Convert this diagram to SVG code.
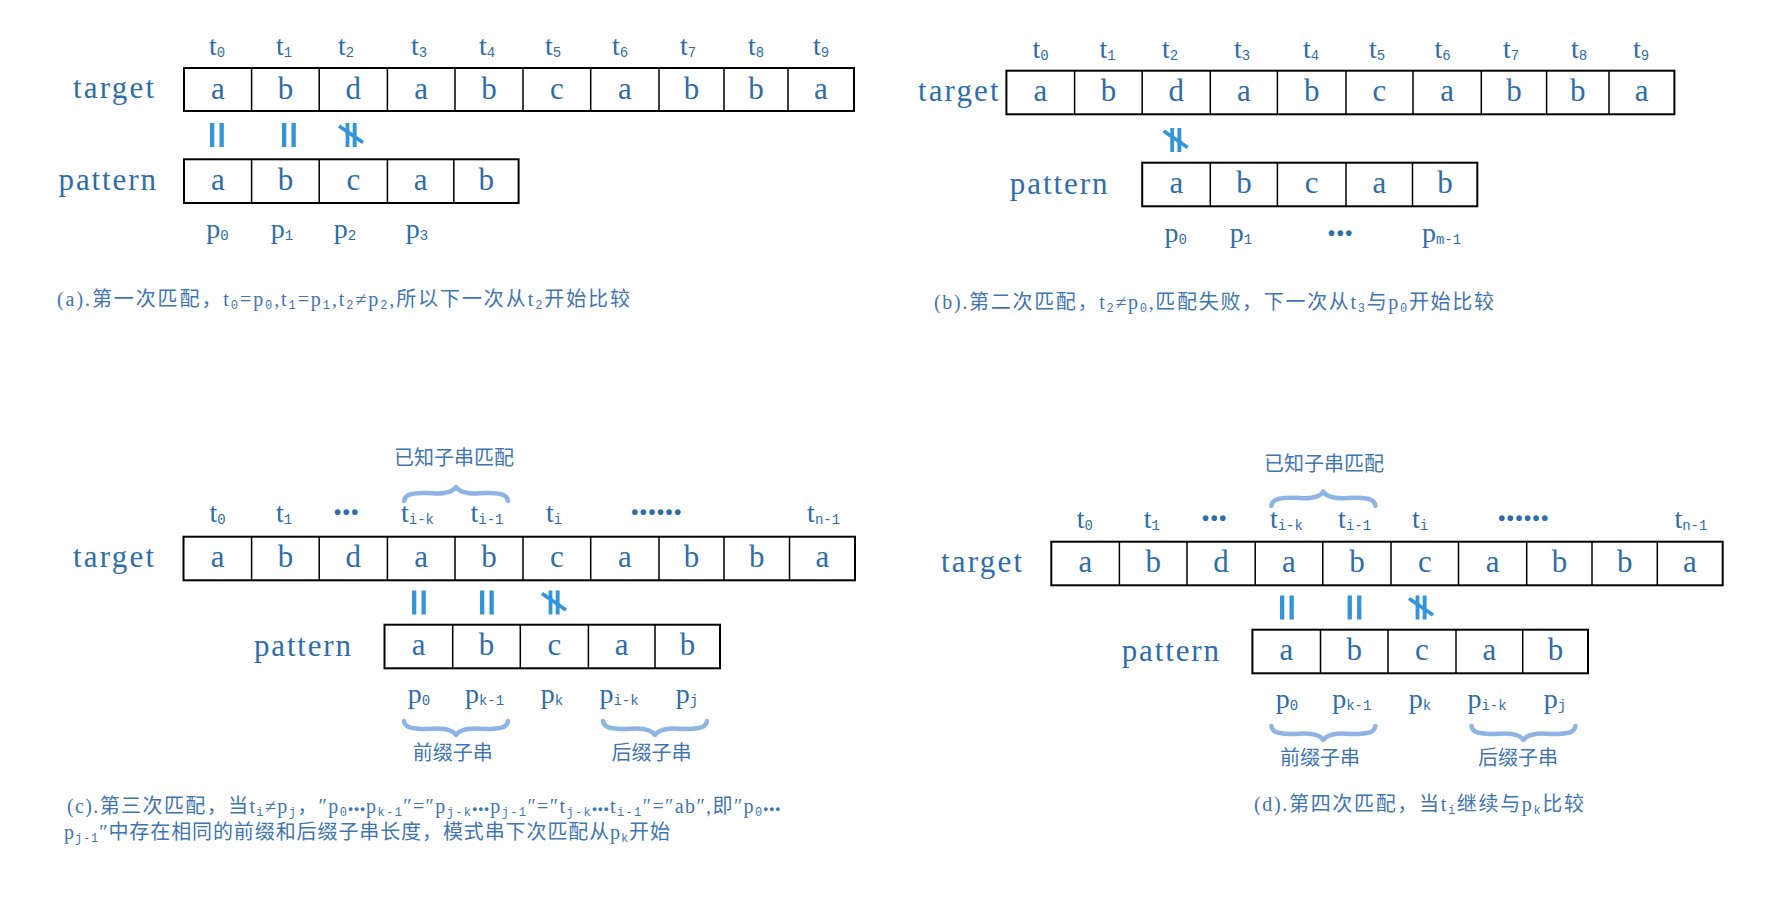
<svg xmlns="http://www.w3.org/2000/svg" xmlns:xlink="http://www.w3.org/1999/xlink" width="1772" height="909" viewBox="0 0 1772 909">
<style>
.box{fill:none;stroke:#000;stroke-width:2}
.div{stroke:#000;stroke-width:1.5}
.ch{font-family:'Liberation Serif','Noto Sans CJK SC',serif;font-size:31px;fill:#2F6DA8;text-anchor:middle}
.lb{font-family:'Liberation Serif','Noto Sans CJK SC',serif;font-size:31px;fill:#2F6DA8}
.tl{font-family:'Liberation Serif','Noto Sans CJK SC',serif;font-size:28px;fill:#2F6DA8;text-anchor:middle}
.sb{font-family:'Liberation Mono',monospace;font-size:14px}
.dots{font-family:'Liberation Sans',sans-serif;font-size:20px;fill:#2F6DA8;text-anchor:middle;letter-spacing:1.6px;font-weight:bold}
.cj{font-family:'Noto Sans CJK SC',sans-serif;font-size:20px;fill:#3F75B0;text-anchor:middle}
.cap{font-family:'Liberation Serif','Noto Sans CJK SC',sans-serif;font-size:20px;fill:#3F75B0}
.cs{font-family:'Liberation Mono',monospace;font-size:12px}
.cd{font-family:'Liberation Sans',sans-serif;font-size:13px;font-weight:bold}
.eq{fill:#3394DA}
.neq{stroke:#3394DA;stroke-width:3.6}
.brace{fill:none;stroke:#8DB4E2;stroke-width:4.5;stroke-linecap:round;stroke-linejoin:round}
</style>
<defs>
<g id="eq" class="eq"><rect x="-7" y="-12" width="4.3" height="24"/><rect x="2.5" y="-12" width="4.3" height="24"/></g>
<g id="neq"><rect class="eq" x="-5.4" y="-12" width="3.8" height="24"/><rect class="eq" x="1.7" y="-12" width="3.9" height="24"/><line class="neq" x1="-12" y1="-9" x2="12" y2="7.5"/></g>
<path id="brace" class="brace" d="M-52,14 C-51,7 -44,6.5 -34,6 C-24,5.5 -20,7.5 -12,6 C-5,5 -2,3 0,0 C2,3 5,5 12,6 C20,7.5 24,5.5 34,6 C44,6.5 51,7 52,14"/>
</defs>
<rect width="1772" height="909" fill="#fff"/>

<!-- ===== Panel (a) ===== -->
<g id="panel-a">
<g id="a-tlabels">
<text class="tl" x="217" y="55">t<tspan class="sb" dy="2">0</tspan></text>
<text class="tl" x="284" y="55">t<tspan class="sb" dy="2">1</tspan></text>
<text class="tl" x="346" y="55">t<tspan class="sb" dy="2">2</tspan></text>
<text class="tl" x="419" y="55">t<tspan class="sb" dy="2">3</tspan></text>
<text class="tl" x="487" y="55">t<tspan class="sb" dy="2">4</tspan></text>
<text class="tl" x="553" y="55">t<tspan class="sb" dy="2">5</tspan></text>
<text class="tl" x="620" y="55">t<tspan class="sb" dy="2">6</tspan></text>
<text class="tl" x="688" y="55">t<tspan class="sb" dy="2">7</tspan></text>
<text class="tl" x="756" y="55">t<tspan class="sb" dy="2">8</tspan></text>
<text class="tl" x="821" y="55">t<tspan class="sb" dy="2">9</tspan></text>
</g>
<g id="a-target">
<text class="lb" x="73" y="98" textLength="81" lengthAdjust="spacing">target</text>
<rect class="box" x="184" y="68" width="670" height="43"/>
<path class="div" d="M251.6,68V111M319.2,68V111M387.4,68V111M455,68V111M523,68V111M590.7,68V111M659,68V111M724,68V111M788,68V111"/>
<text class="ch" x="217.8" y="98.5">a</text><text class="ch" x="285.4" y="98.5">b</text><text class="ch" x="353.3" y="98.5">d</text><text class="ch" x="421.2" y="98.5">a</text><text class="ch" x="489" y="98.5">b</text><text class="ch" x="556.9" y="98.5">c</text><text class="ch" x="624.9" y="98.5">a</text><text class="ch" x="691.5" y="98.5">b</text><text class="ch" x="756" y="98.5">b</text><text class="ch" x="821" y="98.5">a</text>
</g>
<g id="a-pattern">
<text class="lb" x="58.5" y="190" textLength="97.5" lengthAdjust="spacing">pattern</text>
<rect class="box" x="184" y="159.3" width="334.6" height="43.7"/>
<path class="div" d="M251.6,159.3V203M319.2,159.3V203M387.4,159.3V203M453.8,159.3V203"/>
<text class="ch" x="217.8" y="189.5">a</text><text class="ch" x="285.4" y="189.5">b</text><text class="ch" x="353.3" y="189.5">c</text><text class="ch" x="420.6" y="189.5">a</text><text class="ch" x="486.2" y="189.5">b</text>
</g>
<g id="a-plabels">
<text class="tl" x="217.5" y="238">p<tspan class="sb" dy="2">0</tspan></text>
<text class="tl" x="282" y="238">p<tspan class="sb" dy="2">1</tspan></text>
<text class="tl" x="345" y="238">p<tspan class="sb" dy="2">2</tspan></text>
<text class="tl" x="417" y="238">p<tspan class="sb" dy="2">3</tspan></text>
</g>
<text id="a-caption" class="cap" x="57" y="306" textLength="573" lengthAdjust="spacing">(a).第一次匹配，t<tspan class="cs" dy="3">0</tspan><tspan dy="-3">=p</tspan><tspan class="cs" dy="3">0</tspan><tspan dy="-3">,t</tspan><tspan class="cs" dy="3">1</tspan><tspan dy="-3">=p</tspan><tspan class="cs" dy="3">1</tspan><tspan dy="-3">,t</tspan><tspan class="cs" dy="3">2</tspan><tspan dy="-3">≠p</tspan><tspan class="cs" dy="3">2</tspan><tspan dy="-3">,所以下一次从t</tspan><tspan class="cs" dy="3">2</tspan><tspan dy="-3">开始比较</tspan></text>
</g>

<!-- ===== Panel (b) ===== -->
<g id="panel-b">
<g id="b-tlabels">
<text class="tl" x="1040.5" y="57.5">t<tspan class="sb" dy="2">0</tspan></text>
<text class="tl" x="1107.5" y="57.5">t<tspan class="sb" dy="2">1</tspan></text>
<text class="tl" x="1170" y="57.5">t<tspan class="sb" dy="2">2</tspan></text>
<text class="tl" x="1242" y="57.5">t<tspan class="sb" dy="2">3</tspan></text>
<text class="tl" x="1311" y="57.5">t<tspan class="sb" dy="2">4</tspan></text>
<text class="tl" x="1377" y="57.5">t<tspan class="sb" dy="2">5</tspan></text>
<text class="tl" x="1442.6" y="57.5">t<tspan class="sb" dy="2">6</tspan></text>
<text class="tl" x="1511" y="57.5">t<tspan class="sb" dy="2">7</tspan></text>
<text class="tl" x="1579" y="57.5">t<tspan class="sb" dy="2">8</tspan></text>
<text class="tl" x="1641" y="57.5">t<tspan class="sb" dy="2">9</tspan></text>
</g>
<g id="b-target">
<text class="lb" x="918" y="101" textLength="80.5" lengthAdjust="spacing">target</text>
<rect class="box" x="1006.4" y="70.7" width="668" height="43.6"/>
<path class="div" d="M1074.6,70.7V114.3M1142.2,70.7V114.3M1210.3,70.7V114.3M1277.4,70.7V114.3M1346,70.7V114.3M1413,70.7V114.3M1481.3,70.7V114.3M1546.6,70.7V114.3M1609,70.7V114.3"/>
<text class="ch" x="1040.5" y="101">a</text><text class="ch" x="1108.4" y="101">b</text><text class="ch" x="1176.3" y="101">d</text><text class="ch" x="1243.9" y="101">a</text><text class="ch" x="1311.7" y="101">b</text><text class="ch" x="1379.5" y="101">c</text><text class="ch" x="1447.2" y="101">a</text><text class="ch" x="1514" y="101">b</text><text class="ch" x="1577.8" y="101">b</text><text class="ch" x="1641.7" y="101">a</text>
</g>
<g id="b-pattern">
<text class="lb" x="1009.8" y="193.5" textLength="97.7" lengthAdjust="spacing">pattern</text>
<rect class="box" x="1142.2" y="162.7" width="335.1" height="43.6"/>
<path class="div" d="M1210.3,162.7V206.3M1277.4,162.7V206.3M1346,162.7V206.3M1412.5,162.7V206.3"/>
<text class="ch" x="1176.3" y="193">a</text><text class="ch" x="1243.9" y="193">b</text><text class="ch" x="1311.7" y="193">c</text><text class="ch" x="1379.3" y="193">a</text><text class="ch" x="1444.9" y="193">b</text>
</g>
<g id="b-plabels">
<text class="tl" x="1175.7" y="242">p<tspan class="sb" dy="2">0</tspan></text>
<text class="tl" x="1241" y="242">p<tspan class="sb" dy="2">1</tspan></text>
<text class="dots" x="1341" y="239.5">•••</text>
<text class="tl" x="1441.5" y="242">p<tspan class="sb" dy="2">m-1</tspan></text>
</g>
<text id="b-caption" class="cap" x="934" y="309" textLength="560" lengthAdjust="spacing">(b).第二次匹配，t<tspan class="cs" dy="3">2</tspan><tspan dy="-3">≠p</tspan><tspan class="cs" dy="3">0</tspan><tspan dy="-3">,匹配失败，下一次从t</tspan><tspan class="cs" dy="3">3</tspan><tspan dy="-3">与p</tspan><tspan class="cs" dy="3">0</tspan><tspan dy="-3">开始比较</tspan></text>
</g>

<!-- ===== Panel (c) ===== -->
<g id="panel-c">
<text id="c-known" class="cj" x="454" y="465">已知子串匹配</text>
<g id="c-tlabels">
<text class="tl" x="217.5" y="522">t<tspan class="sb" dy="2">0</tspan></text>
<text class="tl" x="284" y="522">t<tspan class="sb" dy="2">1</tspan></text>
<text class="dots" x="347" y="519">•••</text>
<text class="tl" x="417.5" y="522">t<tspan class="sb" dy="2">i-k</tspan></text>
<text class="tl" x="487" y="522">t<tspan class="sb" dy="2">i-1</tspan></text>
<text class="tl" x="554" y="522">t<tspan class="sb" dy="2">i</tspan></text>
<text class="dots" x="657" y="519">••••••</text>
<text class="tl" x="823.6" y="522">t<tspan class="sb" dy="2">n-1</tspan></text>
</g>
<g id="c-target">
<text class="lb" x="73" y="567" textLength="81" lengthAdjust="spacing">target</text>
<rect class="box" x="183.5" y="536.7" width="671.5" height="43.6"/>
<path class="div" d="M251.6,536.7V580.3M319.2,536.7V580.3M387.4,536.7V580.3M455,536.7V580.3M523,536.7V580.3M590.7,536.7V580.3M659,536.7V580.3M724,536.7V580.3M789.5,536.7V580.3"/>
<text class="ch" x="217.6" y="567">a</text><text class="ch" x="285.4" y="567">b</text><text class="ch" x="353.3" y="567">d</text><text class="ch" x="421.2" y="567">a</text><text class="ch" x="489" y="567">b</text><text class="ch" x="556.9" y="567">c</text><text class="ch" x="624.9" y="567">a</text><text class="ch" x="691.5" y="567">b</text><text class="ch" x="756.8" y="567">b</text><text class="ch" x="822.3" y="567">a</text>
</g>
<g id="c-pattern">
<text class="lb" x="254" y="655.5" textLength="97" lengthAdjust="spacing">pattern</text>
<rect class="box" x="384.5" y="624.7" width="335.5" height="43.6"/>
<path class="div" d="M452.7,624.7V668.3M520.3,624.7V668.3M588.4,624.7V668.3M655,624.7V668.3"/>
<text class="ch" x="418.6" y="655">a</text><text class="ch" x="486.5" y="655">b</text><text class="ch" x="554.4" y="655">c</text><text class="ch" x="621.7" y="655">a</text><text class="ch" x="687.5" y="655">b</text>
</g>
<g id="c-plabels">
<text class="tl" x="419" y="703">p<tspan class="sb" dy="2">0</tspan></text>
<text class="tl" x="484.5" y="703">p<tspan class="sb" dy="2">k-1</tspan></text>
<text class="tl" x="552" y="703">p<tspan class="sb" dy="2">k</tspan></text>
<text class="tl" x="619" y="703">p<tspan class="sb" dy="2">i-k</tspan></text>
<text class="tl" x="687" y="703">p<tspan class="sb" dy="2">j</tspan></text>
</g>
<text id="c-prefix" class="cj" x="452.7" y="759.5">前缀子串</text>
<text id="c-suffix" class="cj" x="651.5" y="759.5">后缀子串</text>
<text id="c-caption1" class="cap" x="67" y="813" textLength="713" lengthAdjust="spacing">(c).第三次匹配，当t<tspan class="cs" dy="3">i</tspan><tspan dy="-3">≠p</tspan><tspan class="cs" dy="3">j</tspan><tspan dy="-3">，″p</tspan><tspan class="cs" dy="3">0</tspan><tspan class="cd" dy="-3">•••</tspan><tspan>p</tspan><tspan class="cs" dy="3">k-1</tspan><tspan dy="-3">″=″p</tspan><tspan class="cs" dy="3">j-k</tspan><tspan class="cd" dy="-3">•••</tspan><tspan>p</tspan><tspan class="cs" dy="3">j-1</tspan><tspan dy="-3">″=″t</tspan><tspan class="cs" dy="3">j-k</tspan><tspan class="cd" dy="-3">•••</tspan><tspan>t</tspan><tspan class="cs" dy="3">i-1</tspan><tspan dy="-3">″=″ab″,即″p</tspan><tspan class="cs" dy="3">0</tspan><tspan class="cd" dy="-3">•••</tspan></text>
<text id="c-caption2" class="cap" x="64" y="839" textLength="606" lengthAdjust="spacing">p<tspan class="cs" dy="3">j-1</tspan><tspan dy="-3">″中存在相同的前缀和后缀子串长度，模式串下次匹配从p</tspan><tspan class="cs" dy="3">k</tspan><tspan dy="-3">开始</tspan></text>
</g>

<!-- ===== Panel (d) ===== -->
<g id="panel-d">
<text id="d-known" class="cj" x="1324" y="471">已知子串匹配</text>
<g id="d-tlabels">
<text class="tl" x="1084.8" y="528">t<tspan class="sb" dy="2">0</tspan></text>
<text class="tl" x="1151.8" y="528">t<tspan class="sb" dy="2">1</tspan></text>
<text class="dots" x="1215" y="524.5">•••</text>
<text class="tl" x="1286.4" y="528">t<tspan class="sb" dy="2">i-k</tspan></text>
<text class="tl" x="1354.6" y="528">t<tspan class="sb" dy="2">i-1</tspan></text>
<text class="tl" x="1420" y="528">t<tspan class="sb" dy="2">i</tspan></text>
<text class="dots" x="1524" y="524.5">••••••</text>
<text class="tl" x="1690.9" y="528">t<tspan class="sb" dy="2">n-1</tspan></text>
</g>
<g id="d-target">
<text class="lb" x="941" y="572" textLength="81" lengthAdjust="spacing">target</text>
<rect class="box" x="1051.3" y="541.7" width="671.4" height="43.6"/>
<path class="div" d="M1119.4,541.7V585.3M1187,541.7V585.3M1255.2,541.7V585.3M1322.8,541.7V585.3M1391,541.7V585.3M1458.5,541.7V585.3M1526.7,541.7V585.3M1592,541.7V585.3M1657.3,541.7V585.3"/>
<text class="ch" x="1085.4" y="572">a</text><text class="ch" x="1153.2" y="572">b</text><text class="ch" x="1221.1" y="572">d</text><text class="ch" x="1289" y="572">a</text><text class="ch" x="1356.9" y="572">b</text><text class="ch" x="1424.8" y="572">c</text><text class="ch" x="1492.6" y="572">a</text><text class="ch" x="1559.4" y="572">b</text><text class="ch" x="1624.7" y="572">b</text><text class="ch" x="1690" y="572">a</text>
</g>
<g id="d-pattern">
<text class="lb" x="1121.7" y="660.5" textLength="97.3" lengthAdjust="spacing">pattern</text>
<rect class="box" x="1252.4" y="629.7" width="335.6" height="43.6"/>
<path class="div" d="M1320.5,629.7V673.3M1388,629.7V673.3M1456,629.7V673.3M1522.7,629.7V673.3"/>
<text class="ch" x="1286.5" y="660">a</text><text class="ch" x="1354.3" y="660">b</text><text class="ch" x="1422" y="660">c</text><text class="ch" x="1489.4" y="660">a</text><text class="ch" x="1555.4" y="660">b</text>
</g>
<g id="d-plabels">
<text class="tl" x="1287" y="708">p<tspan class="sb" dy="2">0</tspan></text>
<text class="tl" x="1351.8" y="708">p<tspan class="sb" dy="2">k-1</tspan></text>
<text class="tl" x="1420" y="708">p<tspan class="sb" dy="2">k</tspan></text>
<text class="tl" x="1487" y="708">p<tspan class="sb" dy="2">i-k</tspan></text>
<text class="tl" x="1555" y="708">p<tspan class="sb" dy="2">j</tspan></text>
</g>
<text id="d-prefix" class="cj" x="1320" y="764.5">前缀子串</text>
<text id="d-suffix" class="cj" x="1518" y="764.5">后缀子串</text>
<text id="d-caption" class="cap" x="1254" y="811" textLength="330" lengthAdjust="spacing">(d).第四次匹配，当t<tspan class="cs" dy="3">i</tspan><tspan dy="-3">继续与p</tspan><tspan class="cs" dy="3">k</tspan><tspan dy="-3">比较</tspan></text>
</g>

<!-- ===== Connectors: equality marks and braces ===== -->
<g id="connectors">
<use xlink:href="#eq" href="#eq" x="217" y="135"/>
<use xlink:href="#eq" href="#eq" x="289" y="135"/>
<use xlink:href="#neq" href="#neq" x="351" y="135"/>
<use xlink:href="#neq" href="#neq" x="1175.7" y="140"/>
<use xlink:href="#eq" href="#eq" x="419" y="602.5"/>
<use xlink:href="#eq" href="#eq" x="487" y="602.5"/>
<use xlink:href="#neq" href="#neq" x="554" y="602.5"/>
<use xlink:href="#eq" href="#eq" x="1287" y="607.5"/>
<use xlink:href="#eq" href="#eq" x="1354.6" y="607.5"/>
<use xlink:href="#neq" href="#neq" x="1421" y="607.5"/>
<use xlink:href="#brace" href="#brace" transform="translate(456,487)"/>
<use xlink:href="#brace" href="#brace" transform="translate(456,735) scale(1,-1)"/>
<use xlink:href="#brace" href="#brace" transform="translate(655,735) scale(1,-1)"/>
<use xlink:href="#brace" href="#brace" transform="translate(1323.4,491.7)"/>
<use xlink:href="#brace" href="#brace" transform="translate(1323.4,740) scale(1,-1)"/>
<use xlink:href="#brace" href="#brace" transform="translate(1523.5,740) scale(1,-1)"/>
</g>
</svg>
